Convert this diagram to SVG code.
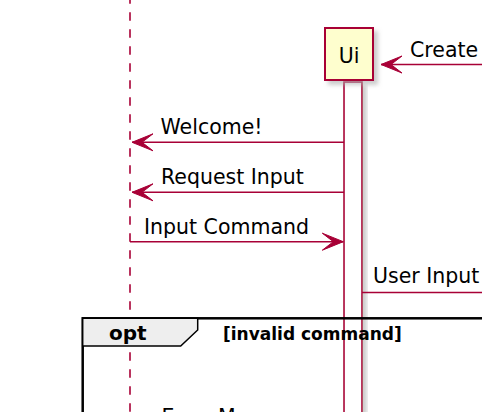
<svg xmlns="http://www.w3.org/2000/svg" width="482" height="412" viewBox="0 0 482 412">
<style>
.msg{font-family:"DejaVu Sans",Verdana,sans-serif;font-size:20.5px;fill:#000}
.ln{stroke:#A80036;stroke-width:1.6;fill:none}
.life{stroke:#A80036;stroke-width:1.6;stroke-dasharray:8.5 8.5;fill:none}
.bold{font-family:"DejaVu Sans",Verdana,sans-serif;font-weight:bold;fill:#000}
</style>
<defs>
<filter id="sh" x="-30%" y="-30%" width="160%" height="160%">
<feGaussianBlur in="SourceAlpha" stdDeviation="2"/>
<feColorMatrix type="matrix" values="0 0 0 0 0.4  0 0 0 0 0.4  0 0 0 0 0.4  0 0 0 0.6 0"/>
<feOffset dx="4" dy="4" result="s"/>
<feMerge><feMergeNode in="s"/><feMergeNode in="SourceGraphic"/></feMerge>
</filter>
<marker id="ah" viewBox="-23 -10 25 20" refX="0" refY="0" markerWidth="25" markerHeight="20" markerUnits="userSpaceOnUse" orient="auto">
<path d="M0,0 L-21,-8.5 L-10,0 L-21,8.5 Z" fill="#A80036" stroke="#A80036" stroke-width="1"/>
</marker>
</defs>
<rect width="482" height="412" fill="#fff"/>
<g id="user-lifeline">
<line class="life" x1="130" y1="-4.7" x2="130" y2="420"/>
</g>
<g id="ui">
<rect x="344" y="82" width="18" height="360" fill="#fff" stroke="#A80036" stroke-width="1.6" filter="url(#sh)"/>
<rect x="325" y="28" width="48" height="52" fill="#FEFECE" stroke="#A80036" stroke-width="2" filter="url(#sh)"/>
<text class="msg" x="349" y="63" text-anchor="middle" font-size="21">Ui</text>
</g>
<g id="opt-frame">
<rect x="82.7" y="318.3" width="460" height="200" fill="none" stroke="#000" stroke-width="2.5"/>
<path d="M82.7,318.3 H197.7 V330 L180.7,346 H82.7 Z" fill="#EEEEEE" stroke="#000" stroke-width="1.5"/>
<text class="bold" x="109" y="340" font-size="20">opt</text>
<text class="bold" x="223" y="340" font-size="17">[invalid command]</text>
</g>
<g id="connectors">
<line class="ln" x1="482" y1="64.5" x2="381" y2="64.5" marker-end="url(#ah)"/>
<text class="msg" x="410" y="57">Create</text>
<line class="ln" x1="344" y1="142.3" x2="132" y2="142.3" marker-end="url(#ah)"/>
<text class="msg" x="160.5" y="134">Welcome!</text>
<line class="ln" x1="344" y1="192.3" x2="132" y2="192.3" marker-end="url(#ah)"/>
<text class="msg" x="161" y="183.5">Request Input</text>
<line class="ln" x1="130" y1="241.7" x2="343.3" y2="241.7" marker-end="url(#ah)"/>
<text class="msg" x="144" y="233.5">Input Command</text>
<line class="ln" x1="362" y1="292.5" x2="482" y2="292.5"/>
<text class="msg" x="373" y="283">User Input</text>
<line class="ln" x1="344" y1="432" x2="132" y2="432" marker-end="url(#ah)"/>
<text class="msg" x="161.5" y="424">Error Message</text>
</g>
</svg>
